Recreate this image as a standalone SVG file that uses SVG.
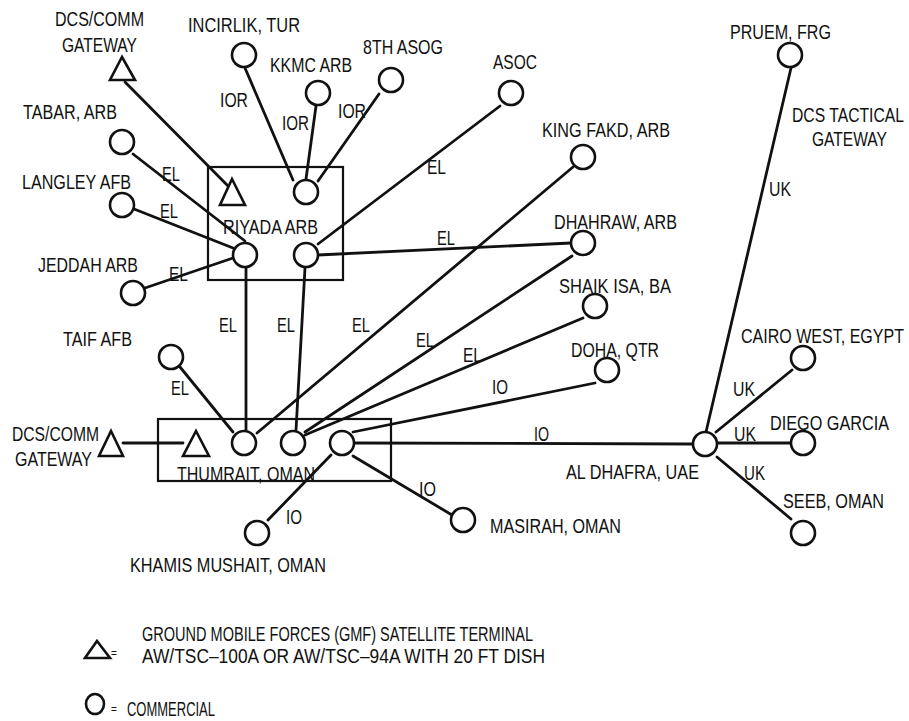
<svg xmlns="http://www.w3.org/2000/svg" width="909" height="721" viewBox="0 0 909 721">
<style>
text{font-family:"Liberation Sans Narrow","Liberation Sans",Arial,sans-serif;font-size:20px;fill:#111;}
.n{fill:#fff;stroke:#111;stroke-width:2.6;}
.t{fill:#fff;stroke:#111;stroke-width:2.6;stroke-linejoin:miter;}
.box{fill:none;stroke:#111;stroke-width:2.2;}
.c line{stroke:#111;stroke-width:2.8;stroke-linecap:round;}
.sm{font-size:10px;}
</style>
<rect width="909" height="721" fill="#fff"/>

<g id="connectors" class="c">
<line x1="125" y1="82" x2="232" y2="190"/>
<line x1="245" y1="68" x2="293" y2="180"/>
<line x1="316" y1="106" x2="306" y2="179"/>
<line x1="379" y1="94" x2="318" y2="181"/>
<line x1="500" y1="106" x2="318" y2="244"/>
<line x1="133" y1="154" x2="245" y2="241"/>
<line x1="134" y1="209" x2="233" y2="248"/>
<line x1="145" y1="288" x2="233" y2="258"/>
<line x1="180" y1="367" x2="233" y2="432"/>
<line x1="246" y1="268" x2="246" y2="430"/>
<line x1="305" y1="268" x2="296" y2="430"/>
<line x1="573" y1="167" x2="257" y2="433"/>
<line x1="318" y1="255" x2="571" y2="243"/>
<line x1="572" y1="256" x2="305" y2="432"/>
<line x1="583" y1="318" x2="305" y2="435"/>
<line x1="595" y1="383" x2="353" y2="432"/>
<line x1="355" y1="443" x2="692" y2="444"/>
<line x1="353" y1="456" x2="452" y2="515"/>
<line x1="331" y1="455" x2="268" y2="520"/>
<line x1="123" y1="443" x2="183" y2="443"/>
<line x1="706" y1="432" x2="791" y2="68"/>
<line x1="716" y1="432" x2="792" y2="370"/>
<line x1="718" y1="443" x2="790" y2="443"/>
<line x1="717" y1="457" x2="791" y2="519"/>
<text x="220" y="107" textLength="28" lengthAdjust="spacingAndGlyphs">IOR</text>
<text x="282" y="130" textLength="27" lengthAdjust="spacingAndGlyphs">IOR</text>
<text x="338" y="118" textLength="28" lengthAdjust="spacingAndGlyphs">IOR</text>
<text x="427" y="174" textLength="19" lengthAdjust="spacingAndGlyphs">EL</text>
<text x="162" y="181" textLength="18" lengthAdjust="spacingAndGlyphs">EL</text>
<text x="160" y="218" textLength="18" lengthAdjust="spacingAndGlyphs">EL</text>
<text x="169" y="281" textLength="19" lengthAdjust="spacingAndGlyphs">EL</text>
<text x="219" y="332" textLength="18" lengthAdjust="spacingAndGlyphs">EL</text>
<text x="277" y="332" textLength="18" lengthAdjust="spacingAndGlyphs">EL</text>
<text x="352" y="332" textLength="18" lengthAdjust="spacingAndGlyphs">EL</text>
<text x="437" y="245" textLength="18" lengthAdjust="spacingAndGlyphs">EL</text>
<text x="171" y="395" textLength="18" lengthAdjust="spacingAndGlyphs">EL</text>
<text x="416" y="347" textLength="18" lengthAdjust="spacingAndGlyphs">EL</text>
<text x="463" y="362" textLength="19" lengthAdjust="spacingAndGlyphs">EL</text>
<text x="492" y="394" textLength="16" lengthAdjust="spacingAndGlyphs">IO</text>
<text x="534" y="441" textLength="15" lengthAdjust="spacingAndGlyphs">IO</text>
<text x="419" y="496" textLength="17" lengthAdjust="spacingAndGlyphs">IO</text>
<text x="286" y="524" textLength="16" lengthAdjust="spacingAndGlyphs">IO</text>
<text x="769" y="196" textLength="22" lengthAdjust="spacingAndGlyphs">UK</text>
<text x="733" y="396" textLength="22" lengthAdjust="spacingAndGlyphs">UK</text>
<text x="734" y="441" textLength="22" lengthAdjust="spacingAndGlyphs">UK</text>
<text x="744" y="480" textLength="21" lengthAdjust="spacingAndGlyphs">UK</text>
</g>

<g id="riyada">
<rect class="box" x="208" y="167" width="135" height="113"/>
<polygon class="t" points="232,179 245,205 220,205"/>
<circle class="n" cx="306" cy="192" r="12"/>
<circle class="n" cx="245" cy="255" r="12"/>
<circle class="n" cx="306" cy="255" r="12"/>
<text x="223" y="234" textLength="95" lengthAdjust="spacingAndGlyphs">RIYADA ARB</text>
</g>

<g id="thumrait">
<rect class="box" x="158" y="419" width="233" height="62"/>
<polygon class="t" points="196,431 209,456 183,456"/>
<circle class="n" cx="244" cy="443" r="12"/>
<circle class="n" cx="293" cy="443" r="12"/>
<circle class="n" cx="342" cy="443" r="12"/>
<text x="177" y="481" textLength="138" lengthAdjust="spacingAndGlyphs">THUMRAIT, OMAN</text>
</g>

<g id="dcs-comm-top">
<polygon class="t" points="122,57 135,80 110,80"/>
<text x="55" y="26" textLength="89" lengthAdjust="spacingAndGlyphs">DCS/COMM</text>
<text x="62" y="52" textLength="75" lengthAdjust="spacingAndGlyphs">GATEWAY</text>
</g>
<g id="dcs-comm-left">
<polygon class="t" points="111,431 123,456 99,456"/>
<text x="12" y="441" textLength="87" lengthAdjust="spacingAndGlyphs">DCS/COMM</text>
<text x="15" y="466" textLength="77" lengthAdjust="spacingAndGlyphs">GATEWAY</text>
</g>
<g id="incirlik"><circle class="n" cx="244" cy="55" r="12"/><text x="188" y="32" textLength="112" lengthAdjust="spacingAndGlyphs">INCIRLIK, TUR</text></g>
<g id="kkmc"><circle class="n" cx="318" cy="93" r="12"/><text x="270" y="72" textLength="82" lengthAdjust="spacingAndGlyphs">KKMC ARB</text></g>
<g id="asog"><circle class="n" cx="391" cy="80" r="12"/><text x="363" y="54" textLength="80" lengthAdjust="spacingAndGlyphs">8TH ASOG</text></g>
<g id="asoc"><circle class="n" cx="511" cy="93" r="12"/><text x="493" y="69" textLength="44" lengthAdjust="spacingAndGlyphs">ASOC</text></g>
<g id="tabar"><circle class="n" cx="122" cy="142" r="12"/><text x="23" y="119" textLength="94" lengthAdjust="spacingAndGlyphs">TABAR, ARB</text></g>
<g id="langley"><circle class="n" cx="122" cy="205" r="12"/><text x="22" y="189" textLength="109" lengthAdjust="spacingAndGlyphs">LANGLEY AFB</text></g>
<g id="jeddah"><circle class="n" cx="133" cy="293" r="12"/><text x="38" y="272" textLength="100" lengthAdjust="spacingAndGlyphs">JEDDAH ARB</text></g>
<g id="taif"><circle class="n" cx="171" cy="357" r="12"/><text x="63" y="346" textLength="69" lengthAdjust="spacingAndGlyphs">TAIF AFB</text></g>
<g id="king-fakd"><circle class="n" cx="583" cy="157" r="12"/><text x="542" y="137" textLength="128" lengthAdjust="spacingAndGlyphs">KING FAKD, ARB</text></g>
<g id="dhahraw"><circle class="n" cx="583" cy="243" r="12"/><text x="554" y="229" textLength="123" lengthAdjust="spacingAndGlyphs">DHAHRAW, ARB</text></g>
<g id="shaik-isa"><circle class="n" cx="595" cy="306" r="12"/><text x="559" y="293" textLength="112" lengthAdjust="spacingAndGlyphs">SHAIK ISA, BA</text></g>
<g id="doha"><circle class="n" cx="607" cy="370" r="12"/><text x="571" y="357" textLength="88" lengthAdjust="spacingAndGlyphs">DOHA, QTR</text></g>
<g id="pruem"><circle class="n" cx="790" cy="55" r="12"/><text x="730" y="39" textLength="101" lengthAdjust="spacingAndGlyphs">PRUEM, FRG</text></g>
<g id="dcs-tactical"><text x="792" y="122" textLength="112" lengthAdjust="spacingAndGlyphs">DCS TACTICAL</text><text x="812" y="146" textLength="75" lengthAdjust="spacingAndGlyphs">GATEWAY</text></g>
<g id="cairo"><circle class="n" cx="803" cy="358" r="12"/><text x="741" y="343" textLength="163" lengthAdjust="spacingAndGlyphs">CAIRO WEST, EGYPT</text></g>
<g id="diego"><circle class="n" cx="803" cy="443" r="12"/><text x="770" y="430" textLength="119" lengthAdjust="spacingAndGlyphs">DIEGO GARCIA</text></g>
<g id="al-dhafra"><circle class="n" cx="705" cy="444" r="12"/><text x="566" y="479" textLength="133" lengthAdjust="spacingAndGlyphs">AL DHAFRA, UAE</text></g>
<g id="seeb"><circle class="n" cx="803" cy="533" r="12"/><text x="783" y="508" textLength="101" lengthAdjust="spacingAndGlyphs">SEEB, OMAN</text></g>
<g id="masirah"><circle class="n" cx="463" cy="520" r="12"/><text x="490" y="533" textLength="131" lengthAdjust="spacingAndGlyphs">MASIRAH, OMAN</text></g>
<g id="khamis"><circle class="n" cx="257" cy="533" r="12"/><text x="130" y="572" textLength="196" lengthAdjust="spacingAndGlyphs">KHAMIS MUSHAIT, OMAN</text></g>

<g id="legend">
<polygon class="t" points="97,641 110,658 85,658"/>
<text class="sm" x="111" y="657">=</text>
<text x="142" y="641" textLength="391" lengthAdjust="spacingAndGlyphs">GROUND MOBILE FORCES (GMF) SATELLITE TERMINAL</text>
<text x="142" y="663" textLength="403" lengthAdjust="spacingAndGlyphs">AW/TSC–100A OR AW/TSC–94A WITH 20 FT DISH</text>
<ellipse class="n" cx="95" cy="704" rx="9" ry="10"/>
<text class="sm" x="111" y="713">=</text>
<text x="127" y="716" textLength="88" lengthAdjust="spacingAndGlyphs">COMMERCIAL</text>
</g>
</svg>
